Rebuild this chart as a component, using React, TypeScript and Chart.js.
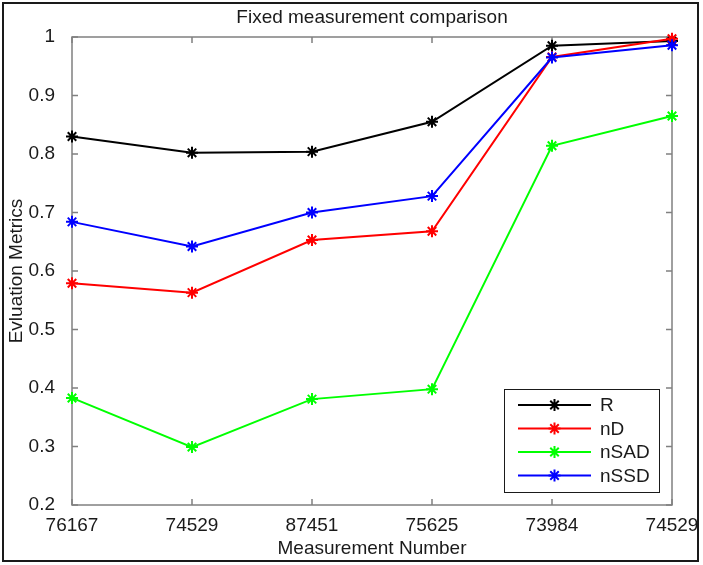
import React, { useEffect, useRef } from "react";
import { Chart, registerables } from "chart.js";

Chart.register(...registerables);

const categories = ["76167", "74529", "87451", "75625", "73984", "74529"];
const rValues = [0.83, 0.802, 0.804, 0.855, 0.985, 0.993];
const nDValues = [0.579, 0.563, 0.653, 0.668, 0.966, 0.997];
const nSADValues = [0.383, 0.299, 0.381, 0.398, 0.814, 0.865];
const nSSDValues = [0.684, 0.642, 0.7, 0.728, 0.965, 0.986];
const seriesNames = ["R", "nD", "nSAD", "nSSD"];
const seriesColors = ["#000000", "#ff0000", "#00ff00", "#0000ff"];
const yMin = 0.2;
const yMax = 1;
const yStep = 0.1;
const chartTitle = "Fixed measurement comparison";
const xTitle = "Measurement Number";
const yTitle = "Evluation Metrics";

const FONT = '"Liberation Sans", Arial, sans-serif';
const AXIS_GRAY = "#808080";

function drawAsterisk(ctx: CanvasRenderingContext2D, x: number, y: number, r: number, color: string) {
  ctx.save();
  ctx.strokeStyle = color;
  ctx.lineWidth = 2;
  ctx.beginPath();
  ctx.moveTo(x - r, y);
  ctx.lineTo(x + r, y);
  ctx.moveTo(x, y - r);
  ctx.lineTo(x, y + r);
  const d = r * Math.SQRT1_2;
  ctx.moveTo(x - d, y - d);
  ctx.lineTo(x + d, y + d);
  ctx.moveTo(x - d, y + d);
  ctx.lineTo(x + d, y - d);
  ctx.stroke();
  ctx.restore();
}

const decorPlugin = {
  id: "decor",
  beforeDraw(chart: any) {
    const ctx = chart.ctx;
    ctx.save();
    ctx.fillStyle = "#ffffff";
    ctx.fillRect(0, 0, chart.width, chart.height);
    ctx.restore();
  },
  beforeDatasetsDraw(chart: any) {
    const ctx = chart.ctx as CanvasRenderingContext2D;
    const { left, right, top, bottom } = chart.chartArea;
    const xs = chart.scales.x;
    const ys = chart.scales.y;
    ctx.save();
    ctx.strokeStyle = AXIS_GRAY;
    ctx.lineWidth = 1.5;
    ctx.strokeRect(left, top, right - left, bottom - top);
    ctx.beginPath();
    const tl = 6;
    xs.ticks.forEach((t: any) => {
      const px = xs.getPixelForValue(t.value);
      ctx.moveTo(px, bottom);
      ctx.lineTo(px, bottom - tl);
      ctx.moveTo(px, top);
      ctx.lineTo(px, top + tl);
    });
    ys.ticks.forEach((t: any) => {
      const py = ys.getPixelForValue(t.value);
      ctx.moveTo(left, py);
      ctx.lineTo(left + tl, py);
      ctx.moveTo(right, py);
      ctx.lineTo(right - tl, py);
    });
    ctx.stroke();
    ctx.restore();
  },
  afterDraw(chart: any) {
    const ctx = chart.ctx as CanvasRenderingContext2D;
    const { left, right, top, bottom } = chart.chartArea;
    const cx = (left + right) / 2;
    ctx.save();
    ctx.fillStyle = "#1a1a1a";
    ctx.font = `19px ${FONT}`;
    ctx.textAlign = "center";
    ctx.textBaseline = "alphabetic";
    ctx.fillText(chartTitle, cx, 23);
    ctx.fillText(xTitle, cx, 554);
    ctx.save();
    ctx.translate(22, (top + bottom) / 2);
    ctx.rotate(-Math.PI / 2);
    ctx.fillText(yTitle, 0, 0);
    ctx.restore();

    // legend
    const lx = 504, ly = 389, lw = 155, lh = 103;
    ctx.fillStyle = "#ffffff";
    ctx.fillRect(lx, ly, lw, lh);
    ctx.strokeStyle = "#1a1a1a";
    ctx.lineWidth = 1;
    ctx.strokeRect(lx + 0.5, ly + 0.5, lw, lh);
    const rows = [405, 428.5, 452, 475.5];
    seriesNames.forEach((name, i) => {
      const y = rows[i];
      ctx.strokeStyle = seriesColors[i];
      ctx.lineWidth = 2;
      ctx.beginPath();
      ctx.moveTo(518, y);
      ctx.lineTo(591, y);
      ctx.stroke();
      drawAsterisk(ctx, 554.5, y, 6, seriesColors[i]);
      ctx.fillStyle = "#1a1a1a";
      ctx.textAlign = "left";
      ctx.textBaseline = "middle";
      ctx.fillText(name, 600, y + 1);
    });

    // outer frame
    ctx.strokeStyle = "#1a1a1a";
    ctx.lineWidth = 2;
    ctx.strokeRect(3, 3, 695, 558);
    ctx.restore();
  },
};

export default function App() {
  const canvasRef = useRef<HTMLCanvasElement | null>(null);

  useEffect(() => {
    const canvas = canvasRef.current;
    if (!canvas) return;
    const allValues = [rValues, nDValues, nSADValues, nSSDValues];
    const chart = new Chart(canvas, {
      type: "line",
      data: {
        datasets: allValues.map((vals, i) => ({
          label: seriesNames[i],
          data: vals.map((v, j) => ({ x: j, y: v })),
          borderColor: seriesColors[i],
          backgroundColor: seriesColors[i],
          borderWidth: 2,
          pointStyle: "star",
          pointRadius: 6,
          pointBorderWidth: 2,
          pointBorderColor: seriesColors[i],
          fill: false,
          tension: 0,
          clip: false,
          order: allValues.length - i,
        })),
      },
      plugins: [decorPlugin],
      options: {
        responsive: false,
        animation: false,
        devicePixelRatio: 1,
        layout: { padding: { top: 37, right: 31, left: 0, bottom: 0 } },
        plugins: {
          legend: { display: false },
          title: { display: false },
          tooltip: { enabled: false },
        },
        scales: {
          x: {
            type: "linear",
            min: 0,
            max: categories.length - 1,
            grid: { display: false },
            border: { display: false },
            ticks: {
              stepSize: 1,
              autoSkip: false,
              maxRotation: 0,
              padding: 1,
              color: "#1a1a1a",
              font: { size: 19, family: FONT },
              callback: (v: any) => categories[Number(v)] ?? "",
            },
            afterFit: (s: any) => {
              s.height = 60;
            },
          },
          y: {
            type: "linear",
            min: yMin,
            max: yMax,
            grid: { display: false },
            border: { display: false },
            ticks: {
              stepSize: yStep,
              padding: 9,
              color: "#1a1a1a",
              font: { size: 19, family: FONT },
              callback: (v: any) => String(Number(Number(v).toFixed(1))),
            },
            afterFit: (s: any) => {
              s.width = 72;
            },
          },
        },
      },
    } as any);
    return () => chart.destroy();
  }, []);

  return (
    <div style={{ position: "absolute", left: 0, top: 0, width: 703, height: 565 }}>
      <canvas ref={canvasRef} width={703} height={565} />
    </div>
  );
}
